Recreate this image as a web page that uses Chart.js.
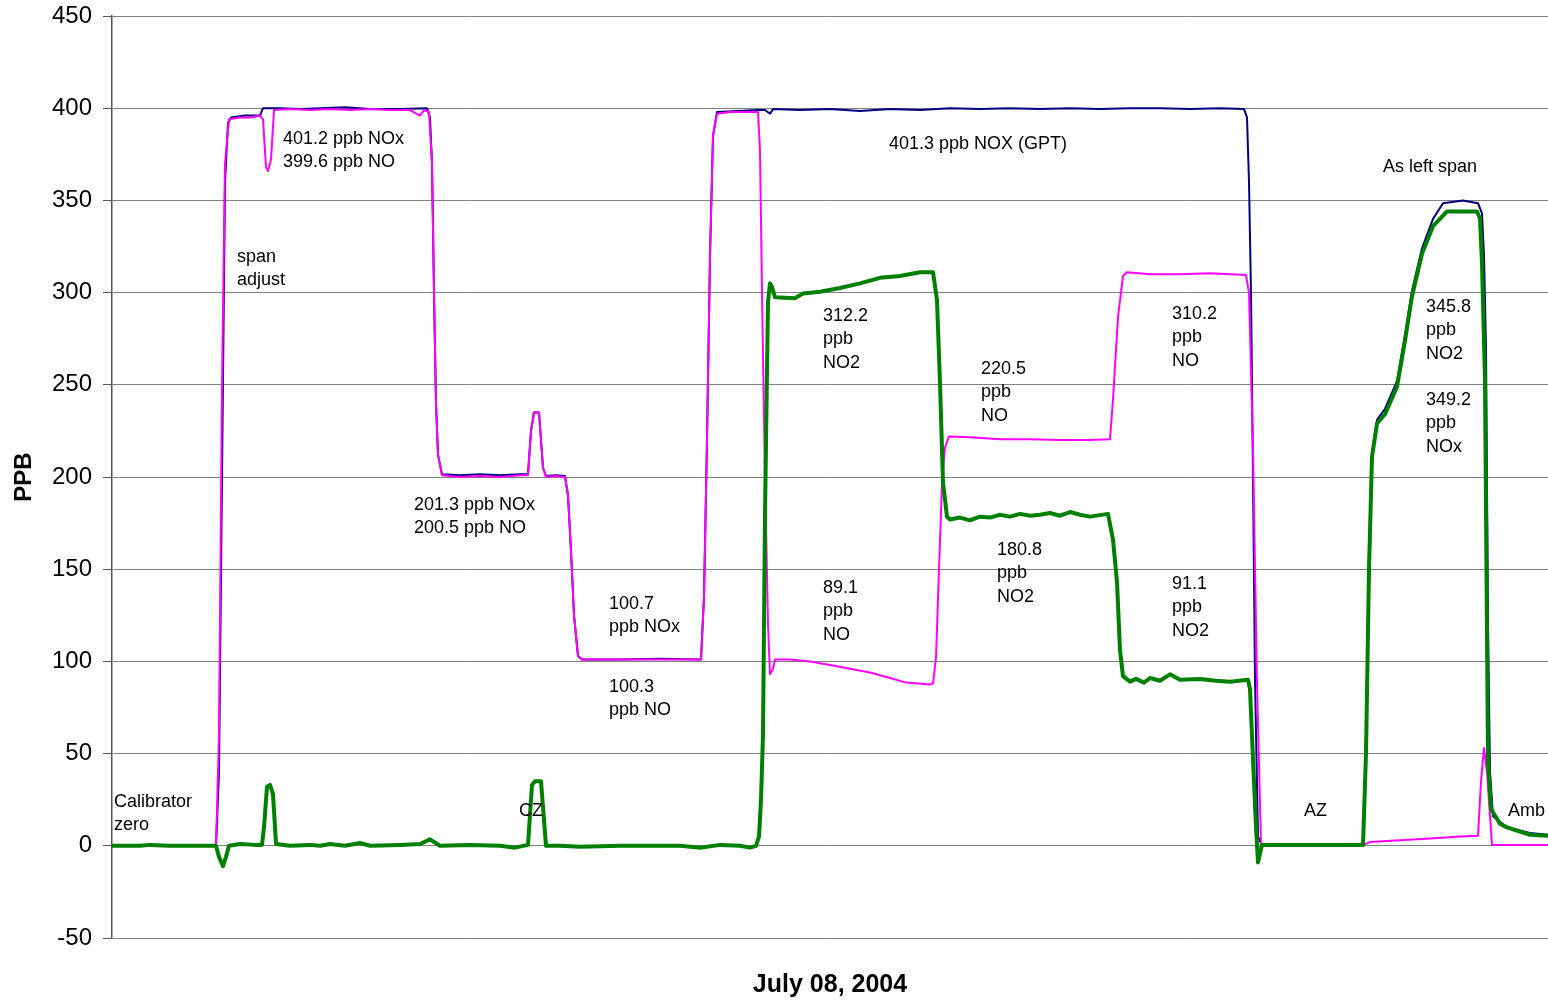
<!DOCTYPE html>
<html>
<head>
<meta charset="utf-8">
<script src="https://cdn.jsdelivr.net/npm/chart.js@4.4.1/dist/chart.umd.min.js"></script>
<style>
  html, body { margin: 0; padding: 0; background: #fff; }
  #wrap { width: 1548px; height: 1000px; }
</style>
</head>
<body>
<div id="wrap"><canvas id="ppbChart"></canvas></div>
<script>
// sample index (one step = one reading)
const noxX = [0, 26, 26.75, 27.5, 28.25, 29, 29.75, 33.25, 37, 37.75, 42, 47, 52, 58.25, 64.5, 72, 78.75, 79.5, 80, 80.5, 81, 81.5, 82.5,
  87, 92, 97, 102, 104, 104.75, 105.5, 106.75, 107.75, 108.5, 111, 113.25, 114, 114.75, 115.5, 116.5, 117.5, 127, 137, 147.25,
  148, 148.75, 149.5, 150.25, 151.25, 161.5, 163.25, 164.5, 165.25, 172, 179.5, 187, 194.5, 202, 209.5, 217, 224.5, 232, 239.5,
  247, 254.5, 262, 269.5, 277, 283, 283.75, 284.25, 284.75, 285.25, 285.75, 286.5, 287.5, 312.75, 313.5, 314.25, 315, 316.25,
  318.25, 321.25, 323.25, 325, 327.5, 330.25, 332.75, 337.75, 341.5, 342.5, 343, 343.5, 344, 344.5, 345.25, 348.75, 354.5, 359];
const noxY = [0, 0, 40, 200, 360, 392, 395, 396, 396, 400, 400, 399.5, 400, 400.5, 399.5, 399.5, 400, 395, 370, 300, 240, 212, 201.5,
  201, 201.5, 201, 201.5, 201.5, 225, 235, 235, 205, 200.5, 201, 200.5, 190, 160, 125, 103, 101, 101, 101.5, 101,
  135, 220, 320, 385, 398, 399, 399, 397, 399.5, 399, 399.5, 398.5, 399.5, 399, 400, 399.5, 400, 399.5, 400,
  399.5, 400, 400, 399.5, 400, 399.5, 395, 360, 300, 200, 90, 5, 0, 0, 60, 160, 213, 231,
  237, 252, 277, 301, 324, 340, 348.5, 350, 348.5, 343, 320, 270, 120, 40, 16, 10, 7, 6];

const noX = [0, 9.5, 17, 26, 26.75, 27.5, 28.25, 29.25, 32, 34.5, 37, 37.75, 38.5, 39, 39.75, 40.5, 44.5, 49.5, 54.5, 59.5, 64.5,
  69.5, 74.5, 77, 78, 79.25, 80, 80.5, 81, 81.5, 82.5, 87, 92, 97, 102, 104, 104.75, 105.5, 106.75, 107.75, 108.5, 111, 113.25,
  114, 114.75, 115.5, 116.5, 117.5, 127, 137, 147.25, 148, 148.75, 149.5, 150.25, 151.25, 154.5, 158.25, 161.5, 162, 162.5,
  163.25, 164, 164.5, 165.25, 165.75, 169.5, 174.5, 179.5, 184.5, 189.5, 194.5, 198.5, 204.5, 205.25, 206, 206.75, 207.5,
  208.25, 209.25, 214.5, 222, 229.5, 237, 244.5, 249.5, 250.25, 251.5, 252.75, 253.75, 259.5, 267, 274.5, 283.5, 284.25,
  285.25, 286.25, 287.25, 297, 312.75, 314.5, 322, 329.5, 337, 341.5, 342.25, 343, 343.75, 345, 359];
const noY = [0, 0.5, 0.3, 0, 60, 250, 370, 394, 395, 395, 396, 394, 368, 366, 372, 399, 399.5, 399, 399.5, 399, 399.5,
  399, 399, 396, 399, 398, 370, 300, 240, 212, 201, 200, 200.5, 200, 201, 201, 225, 235, 235, 205, 200, 200.5, 200,
  190, 160, 125, 103, 101, 101, 101, 101, 135, 220, 320, 385, 397, 398, 398, 398, 377, 300,
  200, 120, 93, 96, 101, 101, 100, 98, 96, 94, 91, 88.5, 87.5, 88, 102, 150, 197,
  216, 222, 221.5, 220.5, 220.5, 220, 220, 220.5, 242, 287, 309, 311, 310, 310, 310.5, 309.5, 300,
  215, 88, 0.5, 0.5, 0.5, 2, 3, 4, 5, 5.5, 35, 53, 40, 0.5, 0.5];

const no2X = [0, 7, 9.5, 14.5, 26, 26.75, 27.75, 28.5, 29.25, 32, 35.75, 37.5, 38, 38.75, 39.5, 40.25, 41, 44.5, 49.5, 52, 54.5,
  58.25, 62, 64.5, 72, 77, 79.5, 82, 89.5, 97, 100.75, 104, 105, 105.75, 107.25, 108.5, 112, 117, 127, 137, 142, 147, 152, 157,
  159.5, 161, 161.75, 162.25, 162.75, 163.25, 164, 164.5, 165, 165.75, 170.75, 172.75, 177, 182, 187, 192, 197, 202, 205.25,
  206.25, 207, 207.75, 208.75, 209.5, 212, 214.5, 217, 219.5, 222, 224.5, 227, 229.5, 232, 234.5, 237, 239.5, 242, 244.5, 249,
  250.25, 251.25, 252, 252.75, 254.5, 256, 258, 259.5, 262, 264.5, 267, 272, 276, 279.5, 284, 284.5, 285.25, 286, 286.5, 287.5,
  297, 312.75, 313.5, 314.25, 315, 316.25, 318.25, 321.25,
  323.25, 325, 327.5, 330.25, 333.75, 341.25, 342, 342.5, 343.25, 344, 344.75, 347, 348.75, 354.5, 359];
const no2Y = [0, 0, 0.5, 0, 0, -6, -11, -6, 0, 1, 0.5, 0.5, 10, 32, 33, 28, 1, 0, 0.5, 0, 1,
  0, 1.5, 0, 0.5, 1, 3.5, 0, 0.5, 0, -1, 0.5, 33, 35, 35, 0, 0, -0.5, 0, 0, 0, -1, 0.5, 0,
  -1, 0, 5, 25, 60, 180, 295, 305, 303, 297.5, 297, 299.5, 300.5, 302.5, 305, 308, 309, 311, 311,
  296, 251, 197, 178.5, 177, 178, 176.5, 178.5, 178, 179.5, 178.5, 180, 179, 179.5, 180.5, 179, 181, 179.5, 178.5, 180,
  166, 143, 106, 92, 89, 90.5, 88.5, 91, 89.5, 93, 90, 90.5, 89.5, 89, 90, 85, 47, 10, -9, 0.5,
  0.5, 0.5, 50, 150, 211, 229, 234, 249,
  274, 298, 321, 336, 344, 344, 340, 316, 252, 46, 20, 12, 10, 6, 5.5];

const yTicks = [-50, 0, 50, 100, 150, 200, 250, 300, 350, 400, 450];

// text notes on the plot: x in samples, y in ppb (top line)
const notes = [
  { x: 42.75, y: 383.4, lines: ['401.2 ppb NOx', '399.6 ppb NO'] },
  { x: 31.25, y: 319.4, lines: ['span', 'adjust'] },
  { x: 194.25, y: 380.7, lines: ['401.3 ppb NOX (GPT)'] },
  { x: 317.75, y: 368.2, lines: ['As left span'] },
  { x: 177.75, y: 287.4, lines: ['312.2', 'ppb', 'NO2'] },
  { x: 217.25, y: 258.7, lines: ['220.5', 'ppb', 'NO'] },
  { x: 265, y: 288.5, lines: ['310.2', 'ppb', 'NO'] },
  { x: 328.5, y: 292.3, lines: ['345.8', 'ppb', 'NO2'] },
  { x: 328.5, y: 241.9, lines: ['349.2', 'ppb', 'NOx'] },
  { x: 75.5, y: 184.9, lines: ['201.3 ppb NOx', '200.5 ppb NO'] },
  { x: 221.25, y: 160.5, lines: ['180.8', 'ppb', 'NO2'] },
  { x: 177.75, y: 139.9, lines: ['89.1', 'ppb', 'NO'] },
  { x: 265, y: 142.1, lines: ['91.1', 'ppb', 'NO2'] },
  { x: 124.25, y: 131.2, lines: ['100.7', 'ppb NOx'] },
  { x: 124.25, y: 86.2, lines: ['100.3', 'ppb NO'] },
  { x: 0.5, y: 23.9, lines: ['Calibrator', 'zero'] },
  { x: 101.75, y: 19, lines: ['CZ'] },
  { x: 298, y: 19, lines: ['AZ'] },
  { x: 349, y: 19, lines: ['Amb'] }
];

function pts(xs, ys) {
  return xs.map((x, i) => ({ x: x, y: ys[i] }));
}

const FONT = "'Liberation Sans', Arial, sans-serif";

const notePlugin = {
  id: 'notes',
  afterDatasetsDraw(chart) {
    const ctx = chart.ctx;
    const xs = chart.scales.x, ys = chart.scales.y;
    ctx.save();
    ctx.fillStyle = '#000';
    ctx.font = '18px ' + FONT;
    ctx.textAlign = 'left';
    ctx.textBaseline = 'middle';
    notes.forEach((n) => {
      const px = xs.getPixelForValue(n.x);
      const py = ys.getPixelForValue(n.y);
      n.lines.forEach((t, i) => ctx.fillText(t, px, py + i * 23.5));
    });
    ctx.restore();
  }
};

new Chart('ppbChart', {
  type: 'line',
  data: {
    datasets: [
      { label: 'NOx', data: pts(noxX, noxY), borderColor: '#000080', borderWidth: 2, order: 2 },
      { label: 'NO', data: pts(noX, noY), borderColor: '#ff00ff', borderWidth: 2, order: 1 },
      { label: 'NO2', data: pts(no2X, no2Y), borderColor: '#008000', borderWidth: 4, order: 0 }
    ]
  },
  options: {
    responsive: true,
    maintainAspectRatio: false,
    animation: false,
    layout: { padding: { top: 16, right: 0, left: 0, bottom: 0 } },
    elements: { point: { radius: 0 }, line: { tension: 0, borderJoinStyle: 'round', borderCapStyle: 'round' } },
    plugins: { legend: { display: false }, tooltip: { enabled: false } },
    scales: {
      x: {
        type: 'linear',
        min: 0,
        max: 359,
        grid: { display: false },
        border: { display: false },
        ticks: { display: false },
        title: { display: true, text: 'July 08, 2004', font: { family: FONT, size: 25, weight: 'bold' }, color: '#000', padding: { top: 4, bottom: 0 } },
        afterFit: (s) => { s.height = 62; s.paddingLeft = 0; s.paddingRight = 0; }
      },
      y: {
        min: -50,
        max: 450,
        afterBuildTicks: (s) => { s.ticks = yTicks.map((v) => ({ value: v })); },
        grid: { color: '#808080', lineWidth: 1, tickLength: 9, tickColor: '#555' },
        border: { color: '#555', width: 1.5 },
        ticks: { font: { family: FONT, size: 24 }, color: '#000', padding: 11 },
        title: { display: true, text: 'PPB', font: { family: FONT, size: 24, weight: 'bold' }, color: '#000', padding: { top: 10, bottom: 0 } },
        afterFit: (s) => { s.width = 112; s.paddingTop = 0; s.paddingBottom = 0; }
      }
    }
  },
  plugins: [notePlugin]
});
</script>
</body>
</html>
